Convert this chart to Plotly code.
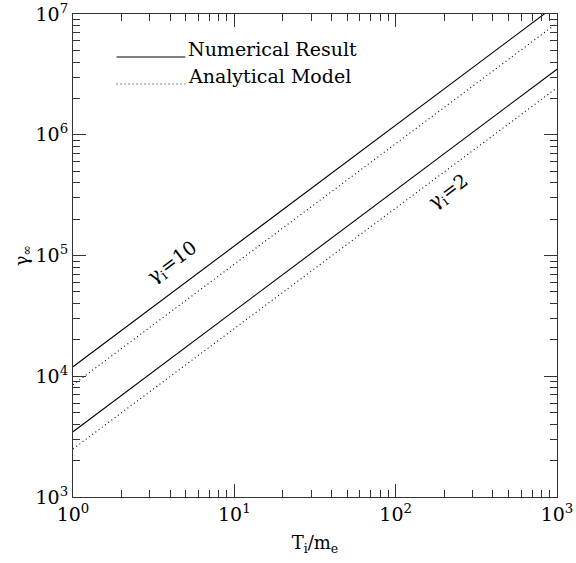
import plotly.graph_objects as go

# Ion temperature (in units of electron mass)
T_ratio = [1, 1000]

# Final Lorentz factor for two initial Lorentz factors
num_gamma10 = [1.2e4, 1.2e7]
ana_gamma10 = [8.5e3, 8.4e6]
num_gamma2 = [3.47e3, 3.49e6]
ana_gamma2 = [2.5e3, 2.45e6]

x_ticks = [1, 10, 100, 1000]
x_ticktext = ["10<sup>0</sup>", "10<sup>1</sup>", "10<sup>2</sup>", "10<sup>3</sup>"]
y_ticks = [1e3, 1e4, 1e5, 1e6, 1e7]
y_ticktext = ["10<sup>3</sup>", "10<sup>4</sup>", "10<sup>5</sup>", "10<sup>6</sup>", "10<sup>7</sup>"]


def minor_ticks(first_decade, last_decade):
    return [m * 10 ** d for d in range(first_decade, last_decade) for m in range(2, 10)]


FONT = "DejaVu Serif"
solid = dict(color="black", width=1.1)
dotted = dict(color="black", width=1.1, dash="1px,3px")

fig = go.Figure()
fig.add_trace(go.Scatter(x=T_ratio, y=num_gamma10, mode="lines", line=solid, name="Numerical Result"))
fig.add_trace(go.Scatter(x=T_ratio, y=ana_gamma10, mode="lines", line=dotted, name="Analytical Model"))
fig.add_trace(go.Scatter(x=T_ratio, y=num_gamma2, mode="lines", line=solid, showlegend=False))
fig.add_trace(go.Scatter(x=T_ratio, y=ana_gamma2, mode="lines", line=dotted, showlegend=False))

axis_common = dict(
    type="log",
    automargin=False,
    showgrid=False,
    zeroline=False,
    showline=True,
    linecolor="#333",
    linewidth=1.2,
    mirror="ticks",
    ticks="inside",
    ticklen=13,
    tickwidth=1,
    tickcolor="#333",
    tickfont=dict(family=FONT, size=19, color="black"),
)
minor_common = dict(ticks="inside", ticklen=7, tickwidth=1, tickcolor="#333", showgrid=False)

fig.update_xaxes(
    **axis_common,
    range=[0, 3],
    tickvals=x_ticks,
    ticktext=x_ticktext,
    minor=dict(**minor_common, tickvals=minor_ticks(0, 3)),
    title=dict(text="T<sub>i</sub>/m<sub>e</sub>", font=dict(family=FONT, size=18, color="black"), standoff=12),
)
fig.update_yaxes(
    **axis_common,
    range=[3, 7],
    tickvals=y_ticks,
    ticktext=y_ticktext,
    minor=dict(**minor_common, tickvals=minor_ticks(3, 7)),
    title=dict(text="γ<sub>∞</sub>", font=dict(family=FONT, size=18, color="black"), standoff=2),
)

# Legend keys drawn as short line segments with labels
legend_rows = [("Numerical Result", False, 0.911), ("Analytical Model", True, 0.855)]
for label, is_dotted, yp in legend_rows:
    fig.add_shape(type="line", xref="paper", yref="paper", x0=0.090, x1=0.232, y0=yp, y1=yp,
                  line=dict(color="black", width=1.1, dash="1px,3px" if is_dotted else None))
    fig.add_annotation(xref="paper", yref="paper", x=0.234, y=yp, xanchor="left", yanchor="bottom",
                       yshift=-5, text=label, showarrow=False,
                       font=dict(family=FONT, size=19, color="black"))

# Curve labels, aligned with the line slope
fig.add_annotation(x=0.619, y=4.938, xref="x", yref="y", text="γ<sub>i</sub>=10", showarrow=False,
                   textangle=-36.85, font=dict(family=FONT, size=19, color="black"))
fig.add_annotation(x=2.332, y=5.526, xref="x", yref="y", text="γ<sub>i</sub>=2", showarrow=False,
                   textangle=-36.85, font=dict(family=FONT, size=19, color="black"))

fig.update_layout(
    width=576,
    height=563,
    margin=dict(l=73, r=19, t=14, b=66),
    paper_bgcolor="white",
    plot_bgcolor="white",
    showlegend=False,
    font=dict(family=FONT, color="black"),
)

fig.write_html("out.html")
